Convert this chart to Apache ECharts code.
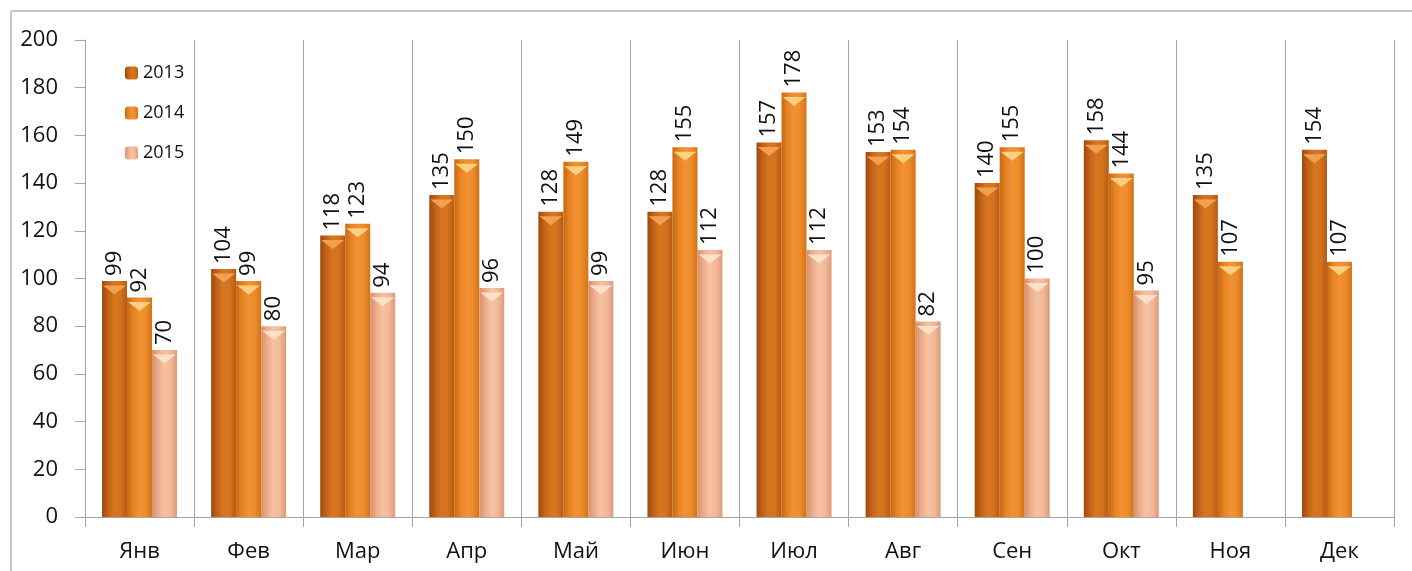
<!DOCTYPE html>
<html><head><meta charset="utf-8">
<script src="https://cdn.jsdelivr.net/npm/echarts@6/dist/echarts.min.js"></script>
<style>html,body{margin:0;padding:0;background:#fff}#c{width:1412px;height:571px}</style>
</head><body><div id="c"></div>
<script>
const categories = ['Янв','Фев','Мар','Апр','Май','Июн','Июл','Авг','Сен','Окт','Ноя','Дек'];
const seriesNames = ['2013','2014','2015'];
const values2013 = [99,104,118,135,128,128,157,153,140,158,135,154];
const values2014 = [92,99,123,150,149,155,178,154,155,144,107,107];
const values2015 = [70,80,94,96,99,112,112,82,100,95,null,null];
const yTicks = {min:0, max:200, interval:20};

const FONT = 'Open Sans';
function grad(stops){
  return new echarts.graphic.LinearGradient(0,0,1,0, stops.map((c,i)=>({offset:i/(stops.length-1), color:c})));
}
const fills = [
  grad(['#9c4a0c','#c4621a','#d8761f','#d4721e','#b65a12']),
  grad(['#c8680f','#e78424','#f29233','#ee8c2a','#d27218']),
  grad(['#d8906c','#ecae8c','#f6c2a2','#f2b898','#dc9a78'])
];
const tops = ['#f0a050','#fbd080','#fde0c8'];
const dataSets = [values2013, values2014, values2015];

const series = [];
dataSets.forEach((d,i)=>{
  series.push({
    name: seriesNames[i], type:'bar', data:d, barWidth:25, barGap:'0%',
    itemStyle:{color:fills[i]},
    label:{show:true, position:'top', rotate:90, align:'left', verticalAlign:'middle', distance:5,
      fontFamily:FONT, fontSize:22, color:'#111'}
  });
});
dataSets.forEach((d,i)=>{
  series.push({
    name: seriesNames[i]+'t', type:'pictorialBar', data:d.map(v=>v==null?'-':v),
    symbol:'path://M0,0 L20,0 L10,7 Z', symbolPosition:'end', symbolSize:[23,9], symbolOffset:[0,'50%'],
    barWidth:25, barGap:'0%', itemStyle:{color:tops[i]}, z:3, silent:true
  });
});

const chart = echarts.init(document.getElementById('c'));
chart.setOption({
  animation:false,
  grid:{left:85, top:40, right:18, bottom:54, containLabel:false},
  legend:{data:seriesNames, orient:'vertical', left:120, top:59, itemWidth:13, itemHeight:13, itemGap:22,
    textStyle:{fontFamily:FONT, fontSize:18, color:'#111'}},
  graphic:[
    {type:'line', shape:{x1:11,y1:11,x2:1412,y2:11}, style:{stroke:'#c8c8c8', lineWidth:2}},
    {type:'line', shape:{x1:11,y1:11,x2:11,y2:571}, style:{stroke:'#c8c8c8', lineWidth:2}}
  ],
  xAxis:{type:'category', data:categories,
    axisLine:{lineStyle:{color:'#a6a6a6'}},
    axisTick:{show:true, length:10, lineStyle:{color:'#a6a6a6'}},
    splitLine:{show:true, lineStyle:{color:'#a6a6a6'}},
    axisLabel:{fontFamily:FONT, fontSize:22, color:'#111', margin:24}},
  yAxis:{type:'value', min:yTicks.min, max:yTicks.max, interval:yTicks.interval,
    axisLine:{show:true, lineStyle:{color:'#a6a6a6'}},
    axisTick:{show:true, length:10, lineStyle:{color:'#a6a6a6'}},
    splitLine:{show:false},
    axisLabel:{fontFamily:FONT, fontSize:22, color:'#111', margin:27}},
  series:series
});
</script></body></html>
